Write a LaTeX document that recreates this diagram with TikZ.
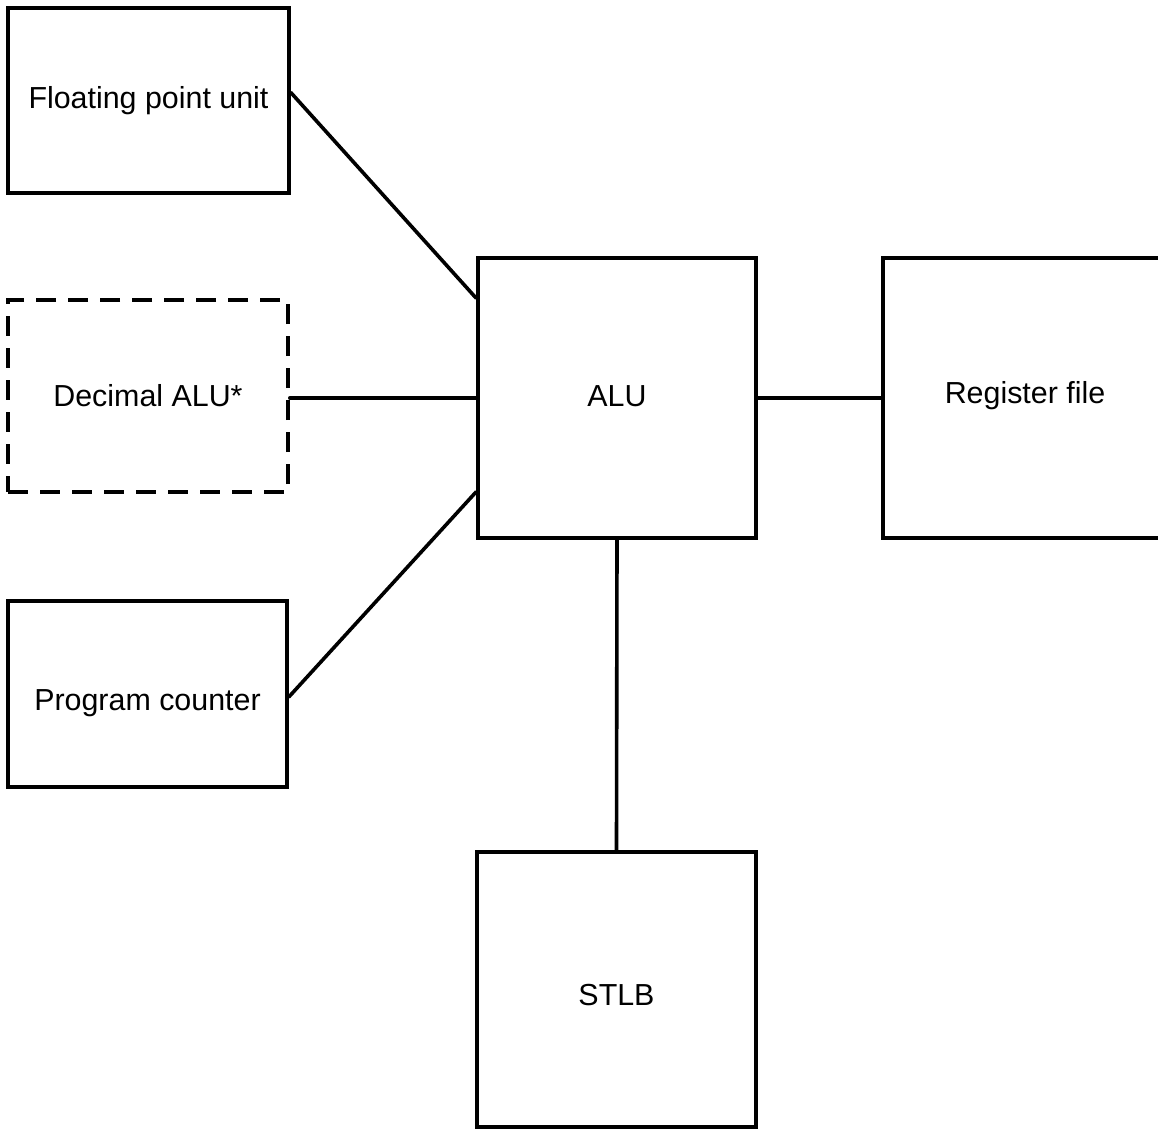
\documentclass[tikz,border=0pt]{standalone}
\usepackage{fontspec}
\setmainfont{Liberation Sans}
\begin{document}
\begin{tikzpicture}[x=0.5pt,y=-0.5pt,
  unit/.style={draw, line width=1.8pt, rectangle, inner sep=0pt, text height=11pt, text depth=3pt, font=\fontsize{15.2}{18}\selectfont},
  wire/.style={line width=1.8pt, line cap=round},
  optional/.style={dash pattern=on 10pt off 6pt}]
\useasboundingbox (0,0) rectangle (1158,1129);
\clip (0,0) rectangle (1158,1129);
\fill[white] (0,0) rectangle (1158,1129);
\node[unit, minimum width=140.5pt, minimum height=92.5pt] (fpu) at (148.5,100.5) {Floating point unit};
\node[unit, optional, minimum width=140pt, minimum height=96pt, text height=13pt] (dec) at (148,396) {Decimal ALU*};
\node[unit, minimum width=139.5pt, minimum height=93pt, text height=19pt] (pc) at (147.5,694) {Program counter};
\node[unit, minimum width=139pt, minimum height=140pt] (alu) at (617,398) {ALU};
\node[unit, minimum width=142pt, minimum height=140pt, text height=8pt] (reg) at (1025,398) {Register file};
\node[unit, minimum width=139.5pt, minimum height=137.5pt, text height=19pt] (stlb) at (616.5,989.5) {STLB};
\draw[wire] ([yshift=4pt]fpu.east) -- ([yshift=-21pt]alu.north west);
\draw[wire] (dec.east |- alu.west) -- (alu.west);
\draw[wire] ([yshift=-1.5pt]pc.east) -- ([yshift=24pt]alu.south west);
\draw[wire] (alu.east) -- (reg.west);
\draw[wire] (alu.south) -- (stlb.north);
\end{tikzpicture}
\end{document}
